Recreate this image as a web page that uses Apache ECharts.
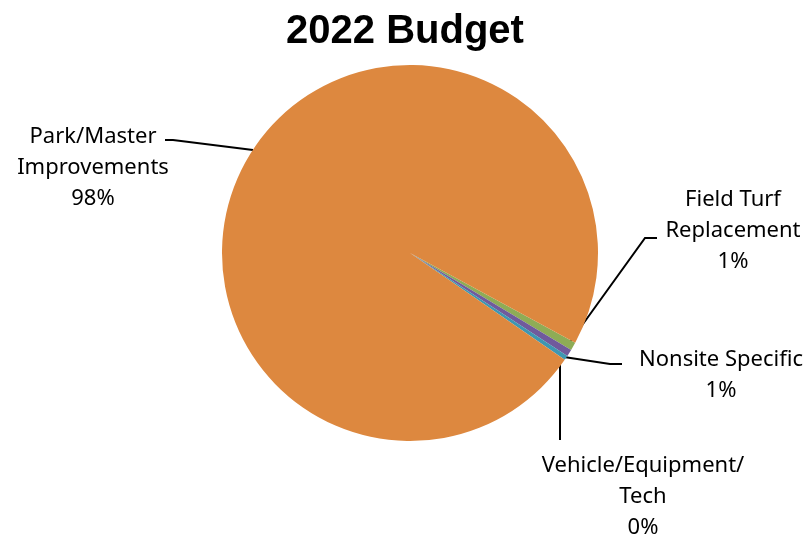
<!DOCTYPE html>
<html>
<head>
<meta charset="utf-8">
<script src="https://cdn.jsdelivr.net/npm/echarts@6/dist/echarts.min.js"></script>
<style>
  html, body { margin: 0; padding: 0; background: #fff; }
  #chart { width: 810px; height: 543px; }
</style>
</head>
<body>
<div id="chart"></div>
<script>
// budget items, in clockwise order from the first slice
const categories = ['Field Turf\nReplacement', 'Nonsite Specific', 'Vehicle/Equipment/\nTech', 'Park/Master\nImprovements'];
const shares = [0.7, 0.6, 0.4, 98.3];
const colors = ['#8EAC56', '#705A9C', '#3E97B1', '#DD883F'];

// where each label sits and how its leader line runs
const spots = [
  { x: 733, y: 231, line: [[570, 342], [645, 238], [657, 238]] },
  { x: 721, y: 375, line: [[564, 357], [610, 364], [622, 364]] },
  { x: 643, y: 497, line: [[560, 360], [560, 440]] },
  { x: 93, y: 168, line: [[253, 150], [173, 140], [165, 140]] }
];

var myChart = echarts.init(document.getElementById('chart'));
var option = {
  animation: false,
  color: colors,
  title: {
    text: '2022 Budget',
    left: 'center',
    top: 7,
    textStyle: {
      fontFamily: 'Liberation Sans',
      fontWeight: 'bold',
      fontSize: 40,
      color: '#000'
    }
  },
  series: [
    {
      type: 'pie',
      center: [410, 253],
      radius: 188,
      startAngle: -28.5,
      clockwise: true,
      avoidLabelOverlap: false,
      itemStyle: { borderWidth: 0 },
      label: {
        show: true,
        position: 'outside',
        fontFamily: 'Noto Sans',
        fontSize: 22,
        lineHeight: 31,
        color: '#000',
        formatter: function (p) {
          return p.name + '\n' + Math.round(p.percent) + '%';
        }
      },
      labelLine: {
        show: true,
        lineStyle: { color: '#000', width: 2 }
      },
      labelLayout: function (p) {
        const s = spots[p.dataIndex];
        return {
          x: s.x,
          y: s.y,
          align: 'center',
          verticalAlign: 'middle',
          labelLinePoints: s.line
        };
      },
      data: categories.map(function (name, i) {
        return { name: name, value: shares[i] };
      })
    }
  ]
};
myChart.setOption(option);
</script>
</body>
</html>
